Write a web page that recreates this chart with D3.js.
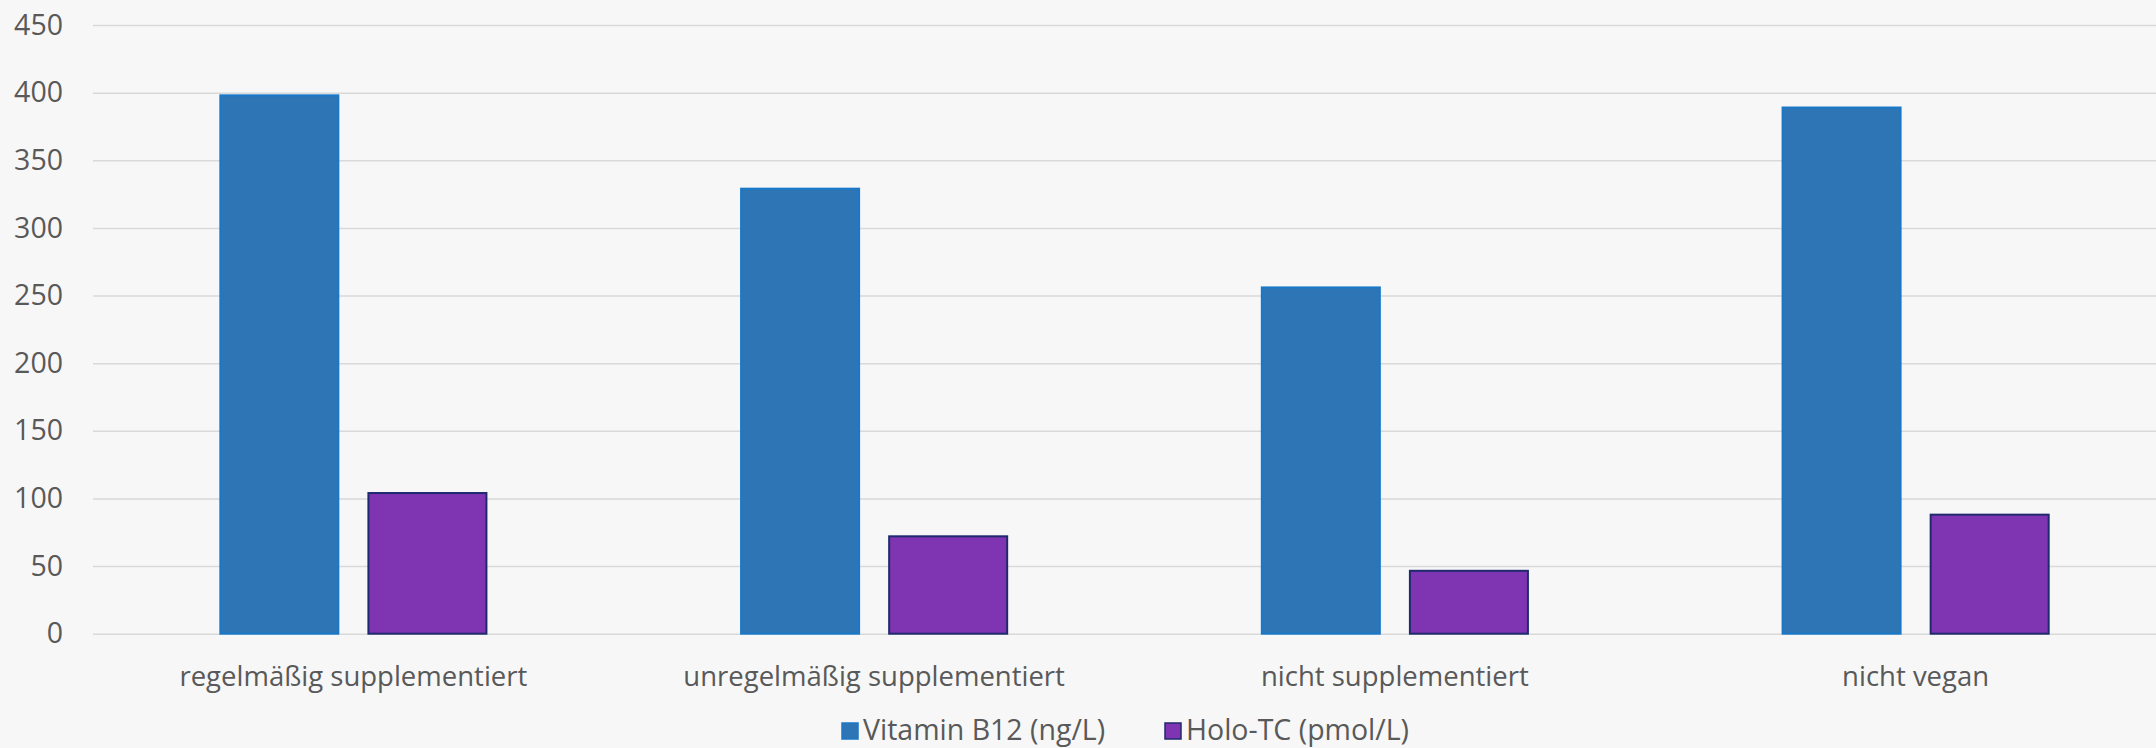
<!DOCTYPE html>
<html>
<head>
<meta charset="utf-8">
<script src="https://cdn.jsdelivr.net/npm/d3@7"></script>
<style>
  html, body { margin: 0; padding: 0; background: #f7f7f7; overflow: hidden; }
  svg { display: block; }
</style>
</head>
<body>
<script>
const categories = ["regelmäßig supplementiert", "unregelmäßig supplementiert", "nicht supplementiert", "nicht vegan"];
const seriesNames = ["Vitamin B12 (ng/L)", "Holo-TC (pmol/L)"];
const vitaminB12 = [398, 329, 256, 389];
const holoTC = [104, 72, 46.5, 88];
const yTicks = [0, 50, 100, 150, 200, 250, 300, 350, 400, 450];

const fills = ["#2e75b6", "#7f35b1"];
const strokes = ["#1a78c8", "#1f2a6e"];

const W = 2156, H = 748;
const plotLeft = 93, plotRight = 2176, plotTop = 25, plotBottom = 633.7;
const font = "'Open Sans', sans-serif";

const svg = d3.select("body").append("svg")
  .attr("width", W).attr("height", H)
  .style("background", "#f7f7f7");

const rows = categories.map((c, i) => ({ cat: c, values: [vitaminB12[i], holoTC[i]] }));

const y = d3.scaleLinear().domain([0, 450]).range([plotBottom, plotTop]);

const x0 = d3.scaleBand().domain(categories).range([plotLeft, plotRight])
  .paddingInner(0.489).paddingOuter(0.489 / 2);
const x1 = d3.scaleBand().domain(d3.range(seriesNames.length)).range([0, x0.bandwidth()])
  .paddingInner(0.203);

// gridlines + y labels
const yAxis = svg.append("g")
  .attr("transform", `translate(${plotLeft},0)`)
  .call(d3.axisLeft(y).tickValues(yTicks).tickSize(-(W - plotLeft)).tickPadding(30));
yAxis.select(".domain").remove();
yAxis.selectAll(".tick line").attr("stroke", "#d9d9d9").attr("stroke-width", 1.5);
yAxis.selectAll(".tick text")
  .attr("fill", "#595959")
  .style("font-family", font)
  .style("font-size", "28.5px");

// bars
const groups = svg.append("g").selectAll("g")
  .data(rows)
  .join("g")
  .attr("transform", d => `translate(${x0(d.cat)},0)`);

groups.selectAll("rect")
  .data(d => d.values.map((v, k) => ({ k, v })))
  .join("rect")
  .attr("x", d => x1(d.k))
  .attr("width", x1.bandwidth())
  .attr("y", d => y(d.v))
  .attr("height", d => y(0) - y(d.v))
  .attr("fill", d => fills[d.k])
  .attr("stroke", d => strokes[d.k])
  .attr("stroke-width", 2);

// x labels
svg.append("g").selectAll("text")
  .data(categories)
  .join("text")
  .attr("x", d => x0(d) + x0.bandwidth() / 2)
  .attr("y", 686)
  .attr("text-anchor", "middle")
  .attr("fill", "#595959")
  .style("font-family", font)
  .style("font-size", "27.5px")
  .text(d => d);

// legend
const legend = svg.append("g");
const legendX = [842, 1165];
seriesNames.forEach((name, k) => {
  const g = legend.append("g").attr("transform", `translate(${legendX[k]},0)`);
  g.append("rect")
    .attr("x", 0).attr("y", 723)
    .attr("width", 16).attr("height", 16)
    .attr("fill", fills[k])
    .attr("stroke", strokes[k])
    .attr("stroke-width", 1.5);
  g.append("text")
    .attr("x", 21).attr("y", 740)
    .attr("fill", "#595959")
    .style("font-family", font)
    .style("font-size", "28.5px")
    .text(name);
});
</script>
</body>
</html>
